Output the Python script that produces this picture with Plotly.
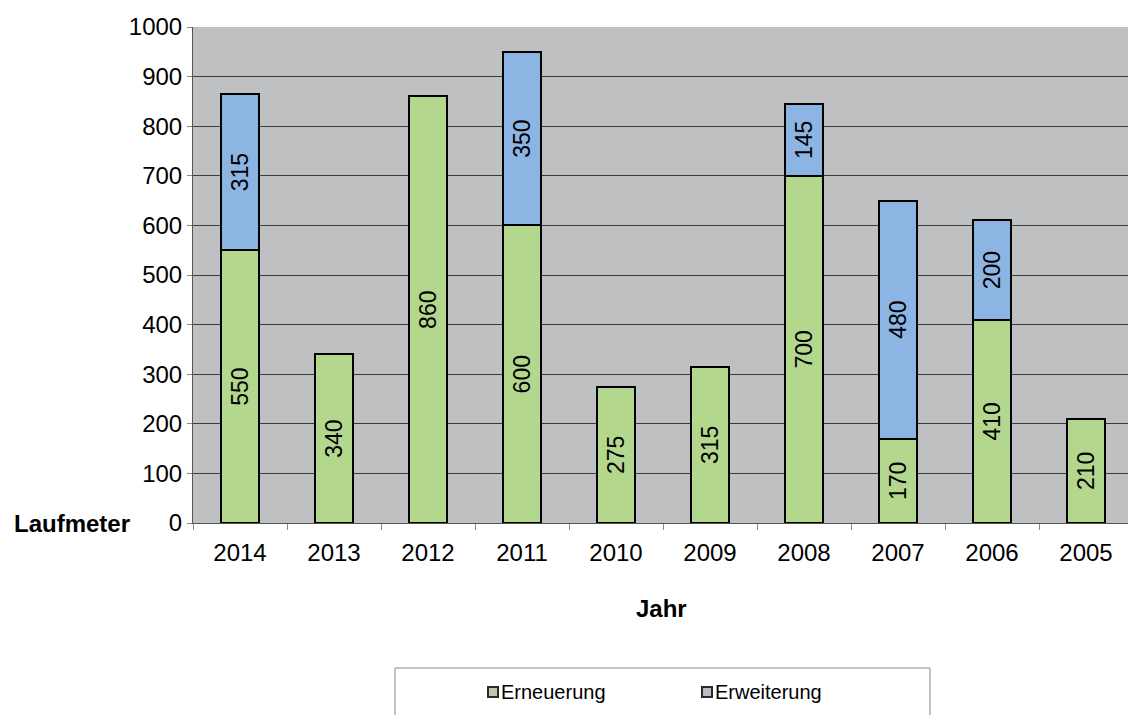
import plotly.graph_objects as go

years = ["2014", "2013", "2012", "2011", "2010", "2009", "2008", "2007", "2006", "2005"]
erneuerung = [550, 340, 860, 600, 275, 315, 700, 170, 410, 210]
erweiterung = [315, None, None, 350, None, None, 145, 480, 200, None]
y_ticks = [0, 100, 200, 300, 400, 500, 600, 700, 800, 900, 1000]
legend_names = ["Erneuerung", "Erweiterung"]

FONT = "Arial, Liberation Sans, sans-serif"
GREEN = "#b4d78e"
BLUE = "#8db5e3"
BG = "#bfc0c2"

fig = go.Figure()
fig.add_trace(go.Bar(
    x=years, y=erneuerung, name=legend_names[0], showlegend=False,
    marker=dict(color=GREEN, line=dict(color="black", width=2)),
    text=[str(v) for v in erneuerung], textposition="inside",
    insidetextanchor="middle", textangle=-90, constraintext="none",
    textfont=dict(family=FONT, size=23, color="black"),
    width=0.41,
))
fig.add_trace(go.Bar(
    x=years, y=erweiterung, name=legend_names[1], showlegend=False,
    marker=dict(color=BLUE, line=dict(color="black", width=2)),
    text=["" if v is None else str(v) for v in erweiterung], textposition="inside",
    insidetextanchor="middle", textangle=-90, constraintext="none",
    textfont=dict(family=FONT, size=23, color="black"),
    width=0.41,
))

# plot area in page pixels: x 193..1133, y 27..523
def px(x):
    return (x - 193) / 940

def py(y):
    return (523 - y) / 496

shapes = [dict(
    type="rect", xref="paper", yref="paper",
    x0=px(395), x1=px(930), y0=py(730), y1=py(668),
    line=dict(color="#888888", width=1), fillcolor="white", layer="below",
)]
annotations = [
    dict(text="<b>Laufmeter</b>", xref="paper", yref="paper",
         x=px(132), y=0, xanchor="right", yanchor="middle", showarrow=False,
         font=dict(family=FONT, size=24, color="black")),
    dict(text="<b>Jahr</b>", xref="paper", yref="paper",
         x=px(661), y=py(608), xanchor="center", yanchor="middle", showarrow=False,
         font=dict(family=FONT, size=24, color="black")),
]
for name, sx, col in [(legend_names[0], 488, "#c6c2b2"), (legend_names[1], 702, "#bdbac4")]:
    shapes.append(dict(
        type="rect", xref="paper", yref="paper",
        x0=px(sx), x1=px(sx + 10), y0=py(697), y1=py(687),
        line=dict(color="#2a2a2a", width=2), fillcolor=col,
    ))
    annotations.append(dict(
        text=name, xref="paper", yref="paper", x=px(sx + 11), y=py(692),
        xanchor="left", yanchor="middle", showarrow=False,
        font=dict(family=FONT, size=20, color="black"),
    ))

fig.update_layout(
    width=1128, height=707,
    margin=dict(l=185, r=3, t=19, b=192),
    paper_bgcolor="white", plot_bgcolor=BG,
    barmode="stack",
    font=dict(family=FONT, size=23, color="black"),
    showlegend=False,
    xaxis=dict(
        showgrid=False, showline=True, linecolor="#555555", linewidth=1,
        ticks="outside", tickson="boundaries", ticklen=6, tickcolor="#888888",
        tickfont=dict(family=FONT, size=24, color="black"),
        ticklabelstandoff=8,
    ),
    yaxis=dict(
        range=[0, 1000], tickvals=y_ticks, showgrid=True, gridcolor="#3c3c3c",
        gridwidth=1, showline=True, linecolor="#555555", linewidth=1,
        ticks="outside", ticklen=5, tickcolor="#888888",
        tickfont=dict(family=FONT, size=24, color="black"), zeroline=False,
    ),
    shapes=shapes,
    annotations=annotations,
)

fig.write_html("out.html")
